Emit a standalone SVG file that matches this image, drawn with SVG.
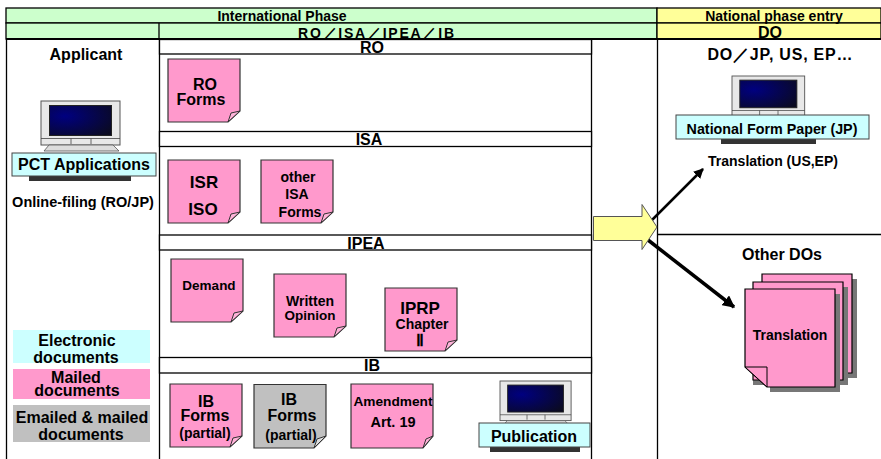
<svg xmlns="http://www.w3.org/2000/svg" width="881" height="459" viewBox="0 0 881 459">
<style>
text{font-family:"Liberation Sans",Arial,sans-serif;font-weight:bold;fill:#000;text-anchor:middle;font-size:16px}
.hd{font-size:14px}
.s14{font-size:14px}
.s15{font-size:15px}
.note{fill:#ff99cc;stroke:#333;stroke-width:1.2}
.gnote{fill:#c0c0c0;stroke:#333;stroke-width:1.2}
.fold{fill:#ffb3d9;stroke:#333;stroke-width:1}
.ln{stroke:#000;stroke-width:1.3;fill:none}
.band{fill:#fff;stroke:#000;stroke-width:1.3}
.cy{fill:#ccffff;stroke:#444;stroke-width:1}
.kb{fill:#333}
</style>
<defs>
<radialGradient id="scr" cx="0.25" cy="0.35" r="0.9"><stop offset="0" stop-color="#000080"/><stop offset="1" stop-color="#0a0a20"/></radialGradient>
<marker id="ah" viewBox="0 0 10 10" refX="9" refY="5" markerWidth="4" markerHeight="4" orient="auto" markerUnits="strokeWidth"><path d="M0 0L10 5L0 10z" fill="#000"/></marker>
<marker id="ah2" viewBox="0 0 10 10" refX="9" refY="5" markerWidth="3.500" markerHeight="3.500" orient="auto" markerUnits="strokeWidth"><path d="M0 0L10 5L0 10z" fill="#000"/></marker>
<g id="pc">
<rect x="0" y="0" width="79" height="44" fill="#e8e8e8" stroke="#555"/>
<rect x="8.500" y="4.500" width="62" height="30" fill="url(#scr)" stroke="#222"/>
<path d="M0 37.500H79M30 37.500V43M50 37.500V43" stroke="#444" fill="none" stroke-width="0.800"/>
<path d="M3 50L8 44H72L78 50z" fill="#ddd" stroke="#555" stroke-width="0.800"/>
</g>
<g id="nt"><path d="M0 0H72V52L60 63H0z" class="note"/><path d="M72 52L60 63L63 54z" class="fold"/></g>
</defs>
<g id="header">
<rect x="6" y="8" width="651" height="15" fill="#ccffcc" stroke="#000" stroke-width="1.300"/>
<rect x="6" y="23" width="651" height="16" fill="#ccffcc" stroke="#000" stroke-width="1.300"/>
<rect x="657" y="8" width="224" height="15" fill="#ffff99" stroke="#000" stroke-width="1.300"/>
<rect x="657" y="23" width="224" height="16" fill="#ffff99" stroke="#000" stroke-width="1.300"/>
<line x1="159" y1="23" x2="159" y2="39" class="ln"/>
<text x="282" y="21" class="hd">International Phase</text>
<text x="774" y="21" class="hd">National phase entry</text>
<text x="376" y="38" class="hd" textLength="156">RO／ISA／IPEA／IB</text>
<text x="770" y="38">DO</text>
</g>
<g id="connectors">
<path d="M6.500 39V459M159.500 39V459M591.500 39V459M657.500 39V459M657 234.500H881" class="ln"/>
<line x1="6" y1="39" x2="881" y2="39" stroke="#000" stroke-width="2"/>
<line x1="652" y1="220" x2="703" y2="169" stroke="#000" stroke-width="2.500" marker-end="url(#ah)"/>
<line x1="648" y1="240" x2="734" y2="307" stroke="#000" stroke-width="3.500" marker-end="url(#ah2)"/>
</g>
<g id="band-ro"><rect x="159.500" y="39.500" width="432" height="14.500" class="band"/><text x="372" y="53">RO</text></g>
<g id="band-isa"><rect x="159.500" y="131.500" width="432" height="15" class="band"/><text x="369" y="145">ISA</text></g>
<g id="band-ipea"><rect x="159.500" y="235" width="432" height="15" class="band"/><text x="366" y="249">IPEA</text></g>
<g id="band-ib"><rect x="159.500" y="357.500" width="432" height="15.500" class="band"/><text x="372" y="371">IB</text></g>
<g id="arrow-main"><path d="M593.500 216.500H642V204.500L657 227L642 249.500V240.500H593.500z" fill="#ffff99" stroke="#555" stroke-width="1"/></g>
<g id="applicant">
<text x="86" y="60">Applicant</text>
<use href="#pc" x="41" y="101"/>
<rect x="29" y="176" width="102" height="5" class="kb"/>
<rect x="12" y="153" width="144" height="23" class="cy"/>
<text x="84" y="170">PCT Applications</text>
<text x="83" y="207" style="font-size:14.500px">Online-filing (RO/JP)</text>
</g>
<g id="do-jp">
<text x="780" y="60" textLength="145">DO／JP, US, EP…</text>
<use href="#pc" transform="translate(732 76) scale(.92)"/>
<rect x="721" y="139" width="95" height="5" class="kb"/>
<rect x="676" y="115" width="193" height="24" class="cy"/>
<text x="772" y="134" style="font-size:14.300px">National Form Paper (JP)</text>
<text x="773" y="166" class="s14">Translation (US,EP)</text>
</g>
<g id="legend">
<rect x="13" y="330" width="137" height="33" fill="#ccffff"/>
<text x="77" y="346">Electronic</text><text x="76" y="363">documents</text>
<rect x="13" y="369" width="137" height="30" fill="#ff99cc"/>
<text x="76" y="383">Mailed</text><text x="77" y="396">documents</text>
<rect x="13" y="405" width="137" height="37" fill="#c0c0c0"/>
<text x="82" y="423">Emailed &amp; mailed</text><text x="81" y="440">documents</text>
</g>
<g id="ro-forms"><use href="#nt" x="168" y="59"/><text x="205" y="90">RO</text><text x="201" y="105">Forms</text></g>
<g id="isr-iso"><use href="#nt" x="168" y="160"/><text x="204" y="188" style="font-size:17px">ISR</text><text x="203" y="215" style="font-size:17px">ISO</text></g>
<g id="other-isa"><use href="#nt" x="261" y="160"/><text x="298" y="182" class="s14">other</text><text x="297" y="199" class="s14">ISA</text><text x="300" y="217" class="s14">Forms</text></g>
<g id="demand"><use href="#nt" x="171" y="259"/><text x="209" y="290" style="font-size:13.500px">Demand</text></g>
<g id="written-opinion"><use href="#nt" x="274" y="274"/><text x="310" y="306" class="s14">Written</text><text x="310" y="320" style="font-size:13.500px">Opinion</text></g>
<g id="iprp"><use href="#nt" x="385" y="288"/><text x="420" y="314" style="font-size:17px">IPRP</text><text x="422" y="329" class="s14">Chapter</text><text x="420" y="346" style="font-size:16px">Ⅱ</text></g>
<g id="ib-forms"><use href="#nt" x="170" y="384"/><text x="206" y="407">IB</text><text x="205" y="421">Forms</text><text x="205" y="438" class="s14">(partial)</text></g>
<g id="ib-forms-gray"><path d="M254 384.500H326V436L314 448H254z" class="gnote"/><path d="M326 436L314 448L317 439z" fill="#ddd" stroke="#333"/><text x="289" y="405">IB</text><text x="292" y="421">Forms</text><text x="291" y="440" class="s14">(partial)</text></g>
<g id="amendment"><path d="M351 384H433V436L423 448H351z" class="note"/><path d="M433 436L423 448L426 439z" class="fold"/><text x="393" y="406" style="font-size:13.700px">Amendment</text><text x="393" y="427" style="font-size:14.500px">Art. 19</text></g>
<g id="publication">
<use href="#pc" transform="translate(500 381) scale(.9)"/>
<rect x="490" y="447" width="90" height="5" class="kb"/>
<rect x="479" y="423" width="111" height="24" class="cy"/>
<text x="534" y="442">Publication</text>
</g>
<g id="translation">
<path d="M852 279h5v99h-95v-5h90z" fill="#777"/><path d="M762 274H852V373H762z" fill="#ff99cc" stroke="#000" stroke-width="1.200"/>
<path d="M843 287h5v98h-95v-5h90z" fill="#777"/><path d="M753 282H843V380H753z" fill="#ff99cc" stroke="#000" stroke-width="1.200"/>
<path d="M835 294h5v98h-70v-5h65z" fill="#777"/><path d="M745 289H835V387H767L745 367z" fill="#ff99cc" stroke="#000" stroke-width="1.200"/><path d="M745 367H767V387z" fill="#ff99cc" stroke="#000"/>
<text x="790" y="340" class="s14">Translation</text>
</g>
<text x="782" y="260">Other DOs</text>
</svg>
